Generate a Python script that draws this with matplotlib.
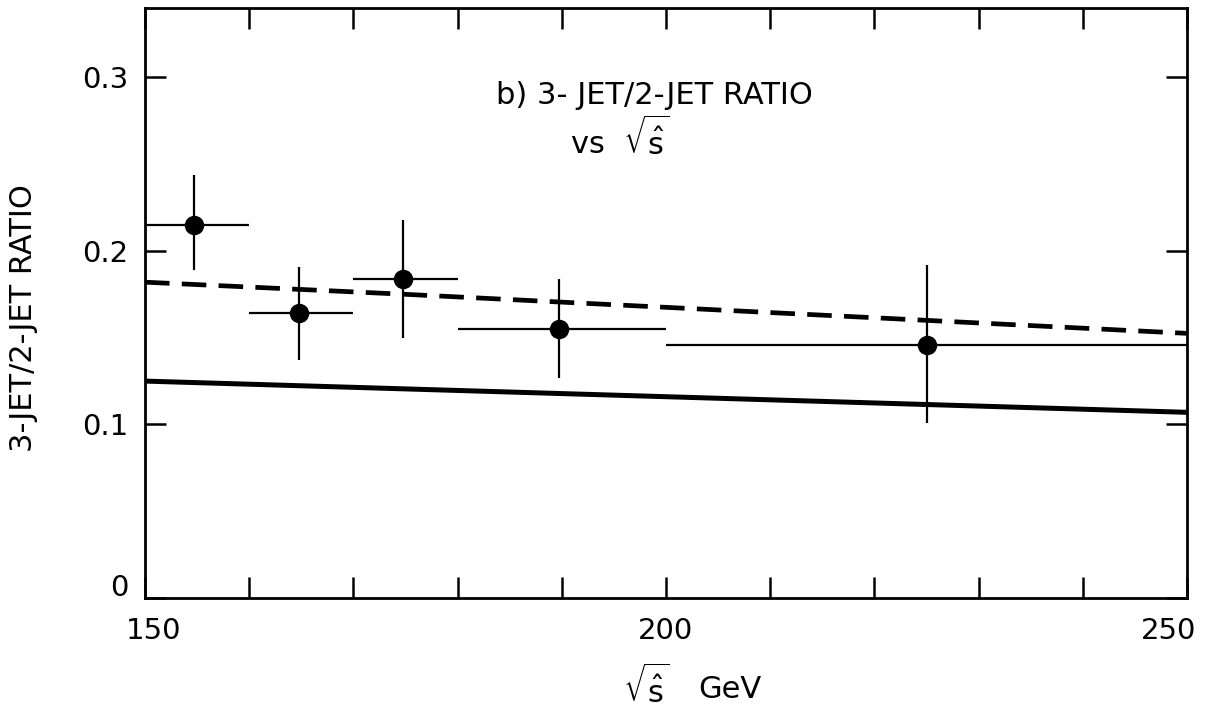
import matplotlib
matplotlib.use('Agg')
import matplotlib.pyplot as plt
import matplotlib.transforms as mtransforms
from matplotlib import font_manager

# 데이터
bin_lo = [150, 160, 170, 180, 200]
bin_hi = [160, 170, 180, 200, 250]
x_pts = [154.7, 164.8, 174.8, 189.7, 225.0]
ratio = [0.215, 0.164, 0.184, 0.155, 0.146]
err_top = [0.244, 0.191, 0.218, 0.184, 0.192]
err_bot = [0.189, 0.137, 0.150, 0.127, 0.101]

curve_x = [150, 175, 200, 225, 250]
dashed_y = [0.182, 0.175, 0.1675, 0.160, 0.1525]
solid_y = [0.125, 0.1205, 0.116, 0.1115, 0.107]

xticks = [150, 200, 250]
yticks = [0, 0.1, 0.2, 0.3]
ytick_labels = ['0', '0.1', '0.2', '0.3']

names = {f.name for f in font_manager.fontManager.ttflist}
fam = 'Liberation Sans Narrow' if 'Liberation Sans Narrow' in names else 'DejaVu Sans'
plt.rcParams['font.family'] = [fam, 'DejaVu Sans']
plt.rcParams['mathtext.fontset'] = 'dejavusans'

fig = plt.figure(figsize=(12.1, 7.1), dpi=100)
ax = fig.add_axes([145 / 1210, 112 / 710, 1042 / 1210, 590 / 710])

# 이론 곡선
ax.plot(curve_x, solid_y, color='black', lw=3.6, solid_capstyle='butt')
ax.plot(curve_x, dashed_y, color='black', lw=3.4, dashes=(5.2, 2.6))

# 데이터 점
xerr = [[x - lo for x, lo in zip(x_pts, bin_lo)], [hi - x for x, hi in zip(x_pts, bin_hi)]]
yerr = [[r - b for r, b in zip(ratio, err_bot)], [t - r for r, t in zip(ratio, err_top)]]
ax.errorbar(x_pts, ratio, xerr=xerr, yerr=yerr, fmt='o', color='black',
            ms=13, elinewidth=1.6, capsize=0, clip_on=False)

ax.set_xlim(150, 250)
ax.set_ylim(0, 0.34)

for s in ax.spines.values():
    s.set_linewidth(2)

ax.set_xticks(xticks)
ax.set_xticks(range(150, 251, 10), minor=True)
ax.set_yticks(yticks)
ax.set_yticklabels(ytick_labels)
ax.tick_params(which='both', direction='in', top=True, right=True, width=1.8,
               length=15, labelsize=21, pad=12)
ax.tick_params(axis='x', pad=14)

# 0 라벨은 조금 위로, 150/250 라벨은 안쪽으로
lbls = ax.get_yticklabels()
lbls[0].set_transform(lbls[0].get_transform() + mtransforms.ScaledTranslation(0, 13 / 100, fig.dpi_scale_trans))
xl = ax.get_xticklabels()
xl[0].set_transform(xl[0].get_transform() + mtransforms.ScaledTranslation(9 / 100, 0, fig.dpi_scale_trans))
xl[-1].set_transform(xl[-1].get_transform() + mtransforms.ScaledTranslation(-18 / 100, 0, fig.dpi_scale_trans))

fig.text(654 / 1210, 1 - 95 / 710, 'b) 3- JET/2-JET RATIO', ha='center', va='center', fontsize=22)
fig.text(620 / 1210, 1 - 138 / 710, r'vs  $\sqrt{\hat{\mathrm{s}}}$', ha='center', va='center', fontsize=22)

fig.text(646 / 1210, 1 - 686 / 710, r'$\sqrt{\hat{\mathrm{s}}}$', ha='center', va='center', fontsize=22)
fig.text(730 / 1210, 1 - 690 / 710, 'GeV', ha='center', va='center', fontsize=22)
fig.text(24 / 1210, 1 - 318 / 710, '3-JET/2-JET RATIO', rotation=90, ha='center', va='center', fontsize=22)

fig.savefig('out.png', dpi=100)
